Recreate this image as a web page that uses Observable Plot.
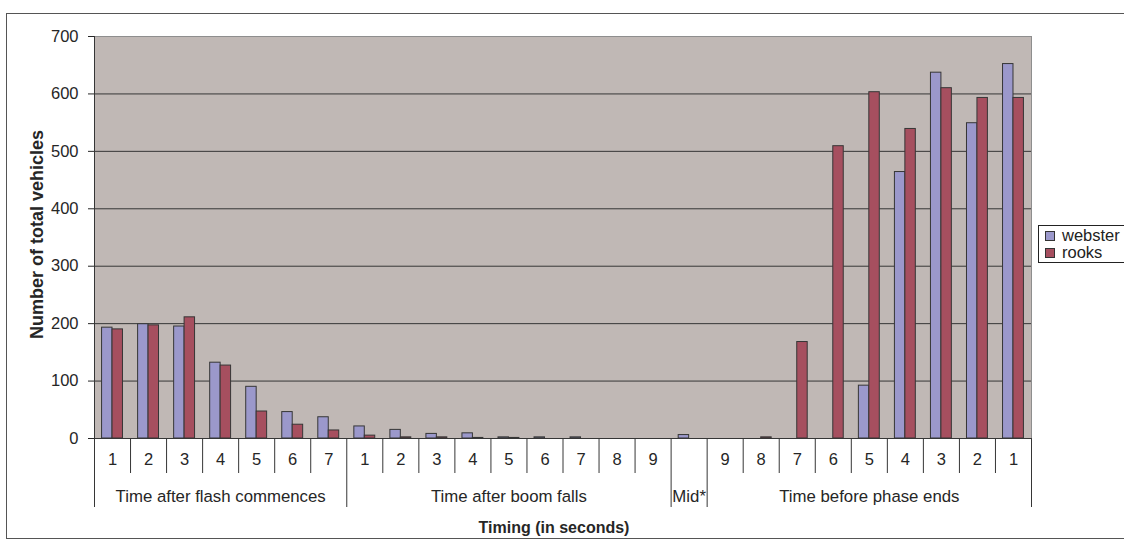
<!DOCTYPE html>
<html>
<head>
<meta charset="utf-8">
<script src="https://cdn.jsdelivr.net/npm/d3@7"></script>
<script src="https://cdn.jsdelivr.net/npm/@observablehq/plot@0.6"></script>
<style>
  body { margin: 0; background: #fff; }
  #wrap { position: relative; width: 1124px; height: 545px; overflow: hidden; font-family: "Liberation Sans", Arial, sans-serif; }
  #wrap svg { position: absolute; left: 0; top: 0; }
  #border { position: absolute; left: 6px; top: 13px; width: 1140px; height: 526px; border: 1px solid #555; box-sizing: border-box; }
  #legend { position: absolute; left: 1038px; top: 225px; width: 110px; height: 38px; border: 1px solid #222; background: #fff; box-sizing: border-box; }
  .item { position: absolute; left: 6px; height: 17px; line-height: 17px; display: flex; align-items: center; font-size: 16.5px; color: #222; white-space: nowrap; }
  .sw { width: 10px; height: 10px; border: 1px solid #333; margin-right: 7px; box-sizing: border-box; }
</style>
</head>
<body>
<div id="wrap">
  <div id="border"></div>
</div>
<script>
// ---- data ----
const tickLabels = ["1","2","3","4","5","6","7","1","2","3","4","5","6","7","8","9","","9","8","7","6","5","4","3","2","1"];
const groupNames = ["Time after flash commences", "Time after boom falls", "Mid*", "Time before phase ends"];
const groupCounts = [7, 9, 1, 9];
const seriesNames = ["webster", "rooks"];
const seriesColors = ["#9b98cb", "#a64f5f"];
const webster = [193, 199, 195, 132, 90, 46, 37, 21, 15, 8, 9, 2, 2, 2, 0, 0, 6, 0, 0, 0, 0, 92, 464, 637, 549, 652];
const rooks   = [190, 197, 211, 127, 47, 24, 14, 5, 2, 2, 1, 1, 0, 0, 0, 0, 0, 0, 2, 168, 509, 603, 539, 610, 593, 593];
const yTicks = [0, 100, 200, 300, 400, 500, 600, 700];
const yLabel = "Number of total vehicles";
const xLabel = "Timing (in seconds)";

// ---- derived tables ----
const n = tickLabels.length;
const data = tickLabels.map((t, i) => ({i, label: t, webster: webster[i], rooks: rooks[i]}));
const starts = [0];
groupCounts.forEach(c => starts.push(starts[starts.length - 1] + c));
const groups = groupNames.map((g, k) => ({name: g, mid: (starts[k] + starts[k + 1]) / 2}));
const bounds = d3.range(n + 1);
const yMax = yTicks[yTicks.length - 1];

const W = 1124, H = 545, mt = 36, mb = 107, ml = 94, mr = 93;
const pxPerUnit = (H - mt - mb) / yMax;
const shortLen = 35 / pxPerUnit, longLen = 69 / pxPerUnit;
const ink = "#363636";
const textInk = "#262626";

const chart = Plot.plot({
  width: W, height: H,
  marginLeft: ml, marginRight: mr, marginTop: mt, marginBottom: mb,
  style: {fontFamily: '"Liberation Sans", Arial, sans-serif', fontSize: "16.5px", color: textInk, background: "transparent", overflow: "visible"},
  x: {domain: [0, n], axis: null},
  y: {domain: [0, yMax], ticks: 7, tickSize: 6, tickPadding: 10, label: null},
  marks: [
    Plot.frame({fill: "#c0b8b5", stroke: null}),
    Plot.ruleY(yTicks.filter(v => v > 0 && v < yMax), {stroke: ink}),
    Plot.frame({stroke: "#8e8e8e"}),
    Plot.rectY(data.filter(d => d.webster > 0), {x1: d => d.i + 0.21, x2: d => d.i + 0.5, y: "webster", fill: seriesColors[0], stroke: ink, strokeWidth: 1}),
    Plot.rectY(data.filter(d => d.rooks > 0), {x1: d => d.i + 0.5, x2: d => d.i + 0.79, y: "rooks", fill: seriesColors[1], stroke: ink, strokeWidth: 1}),
    Plot.ruleX([0], {stroke: ink}),
    Plot.ruleY([0], {stroke: ink}),
    Plot.ruleX(bounds, {x: d => d, y1: 0, y2: d => starts.includes(d) ? -longLen : -shortLen, stroke: ink}),
    Plot.text(data, {x: d => d.i + 0.5, text: "label", frameAnchor: "bottom", dy: 26, fontSize: 16.5, fill: textInk}),
    Plot.text(groups, {x: "mid", text: "name", frameAnchor: "bottom", dy: 63, fontSize: 16.8, fill: textInk}),
    Plot.text([xLabel], {frameAnchor: "bottom", dx: -9, dy: 94, fontSize: 16, fontWeight: "bold", fill: textInk}),
    Plot.text([{x: 0, y: yMax / 2, t: yLabel}], {x: "x", y: "y", text: "t", rotate: -90, dx: -57, dy: -3, fontSize: 18, fontWeight: "bold", fill: textInk})
  ]
});

const wrap = document.getElementById("wrap");
wrap.insertBefore(chart, wrap.firstChild);

// legend (overlaid on the right, as in the original)
const legend = document.createElement("div");
legend.id = "legend";
seriesNames.forEach((s, k) => {
  const item = document.createElement("div");
  item.className = "item";
  item.style.top = (1 + k * 17) + "px";
  const sw = document.createElement("span");
  sw.className = "sw";
  sw.style.background = seriesColors[k];
  item.appendChild(sw);
  item.appendChild(document.createTextNode(s));
  legend.appendChild(item);
});
wrap.appendChild(legend);
</script>
</body>
</html>
